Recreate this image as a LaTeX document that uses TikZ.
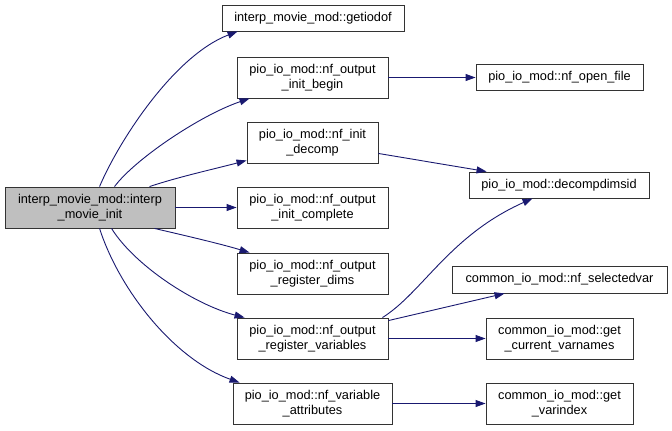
\documentclass[tikz,border=0pt]{standalone}
\usepackage{fontspec}
\setmainfont{Liberation Sans}
\usetikzlibrary{arrows.meta,calc}
\definecolor{edgeblue}{HTML}{191970}
\definecolor{maingray}{HTML}{BFBFBF}
\begin{document}
\begin{tikzpicture}[x=1bp,y=-1bp,
 box/.style={draw=black!80,line width=0.9bp,fill=white,inner sep=0pt,align=center,font=\fontsize{12.8}{15}\selectfont},
 edge/.style={draw=edgeblue,line width=0.9bp,-{Triangle[length=10bp,width=7bp,fill=edgeblue]}}]
\useasboundingbox (0,0) rectangle (672,430);
\node[box,fill=maingray,minimum width=170bp,minimum height=41bp] (main) at (90,207.5) {interp\_movie\_mod::interp\\\_movie\_init};
\node[box,minimum width=182bp,minimum height=26bp] (getiodof) at (313,18) {interp\_movie\_mod::getiodof};
\node[box,minimum width=151bp,minimum height=41bp] (begin) at (312.5,77.5) {pio\_io\_mod::nf\_output\\\_init\_begin};
\node[box,minimum width=131bp,minimum height=41bp] (decomp) at (312.5,142.5) {pio\_io\_mod::nf\_init\\\_decomp};
\node[box,minimum width=151bp,minimum height=41bp] (complete) at (312.5,207.5) {pio\_io\_mod::nf\_output\\\_init\_complete};
\node[box,minimum width=151bp,minimum height=41bp] (dims) at (312.5,273.5) {pio\_io\_mod::nf\_output\\\_register\_dims};
\node[box,minimum width=151bp,minimum height=41bp] (vars) at (312.5,338.5) {pio\_io\_mod::nf\_output\\\_register\_variables};
\node[box,minimum width=159bp,minimum height=41bp] (attrs) at (312.5,403.5) {pio\_io\_mod::nf\_variable\\\_attributes};
\node[box,minimum width=167bp,minimum height=26bp] (openfile) at (559.5,77.5) {pio\_io\_mod::nf\_open\_file};
\node[box,minimum width=180bp,minimum height=26bp] (dimsid) at (559,185) {pio\_io\_mod::decompdimsid};
\node[box,minimum width=215bp,minimum height=27bp] (selvar) at (559.5,279.5) {common\_io\_mod::nf\_selectedvar};
\node[box,minimum width=147bp,minimum height=41bp] (varnames) at (559.5,338.5) {common\_io\_mod::get\\\_current\_varnames};
\node[box,minimum width=147bp,minimum height=41bp] (varindex) at (559.5,403.5) {common\_io\_mod::get\\\_varindex};
% edges from main
\draw[edge] ($(main.north west)+(95,0)$) .. controls +(20,-47) and +(-63,24) .. ($(getiodof.south west)+(16,0)$);
\draw[edge] ($(main.north west)+(110,0)$) .. controls +(20,-27) and +(-50,17) .. ($(begin.south west)+(13,0)$);
\draw[edge] ($(main.north west)+(145,0)$) .. controls +(30,-10) and +(-30,8) .. ($(decomp.south west)+(0,-3)$);
\draw[edge] (main.east) -- (complete.west);
\draw[edge] ($(main.south west)+(150,0)$) .. controls +(30,7) and +(-30,-9) .. ($(dims.north west)+(13,0)$);
\draw[edge] ($(main.south west)+(107,0)$) .. controls +(23,37) and +(-50,-13) .. ($(vars.north west)+(8,0)$);
\draw[edge] ($(main.south west)+(95,0)$) .. controls +(20,62) and +(-65,-23) .. ($(attrs.north west)+(7,0)$);
% right edges
\draw[edge] (begin.east) -- (openfile.west);
\draw[edge] ($(decomp.south east)+(0,-10)$) -- ($(dimsid.north west)+(18,0)$);
\draw[edge] ($(vars.north east)+(-6,0)$) .. controls +(40,-25) and +(-83,37) .. ($(dimsid.south west)+(64,0)$);
\draw[edge] ($(vars.north east)+(0,3)$) -- ($(selvar.south west)+(53,0)$);
\draw[edge] (vars.east) -- (varnames.west);
\draw[edge] (attrs.east) -- (varindex.west);
\end{tikzpicture}
\end{document}
